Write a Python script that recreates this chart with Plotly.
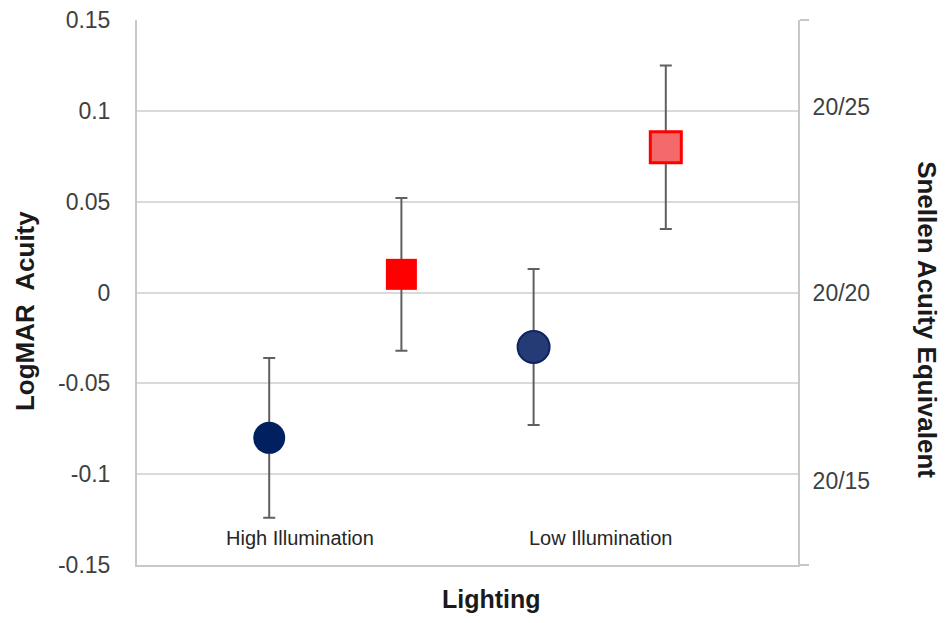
import plotly.graph_objects as go

# ---- data ----
categories = ["High Illumination", "Low Illumination"]
circle_values = [-0.08, -0.03]
circle_errors = [0.044, 0.043]
square_values = [0.01, 0.08]
square_errors = [0.042, 0.045]
left_ticks = [-0.15, -0.1, -0.05, 0.0, 0.05, 0.1, 0.15]
left_tick_text = ["-0.15", "-0.1", "-0.05", "0", "0.05", "0.1", "0.15"]
snellen_ticks = [0.102, 0.0, -0.104]
snellen_text = ["20/25", "20/20", "20/15"]

FONT = "Liberation Sans, Arial, sans-serif"
NAVY = "#002060"
RED = "#FF0000"
ERR = "#606060"

# group positions: each category holds a circle then a square
circle_x = [2 * i + 1 for i in range(len(categories))]
square_x = [2 * i + 2 for i in range(len(categories))]

circle_fill = [NAVY, "#253b76"]
circle_line = [NAVY, "#0d2463"]
circle_lw = [0, 2]
square_fill = [RED, "#f46a6a"]
square_line = [RED, RED]
square_lw = [0, 3]

fig = go.Figure()
fig.add_trace(go.Scatter(
    x=circle_x, y=circle_values, mode="markers",
    marker=dict(symbol="circle", size=32, color=circle_fill,
                line=dict(color=circle_line, width=circle_lw)),
    error_y=dict(type="data", array=circle_errors, visible=True,
                 color=ERR, thickness=2, width=6),
    showlegend=False, hoverinfo="skip"))
fig.add_trace(go.Scatter(
    x=square_x, y=square_values, mode="markers",
    marker=dict(symbol="square", size=31, color=square_fill,
                line=dict(color=square_line, width=square_lw)),
    error_y=dict(type="data", array=square_errors, visible=True,
                 color=ERR, thickness=2, width=6),
    showlegend=False, hoverinfo="skip"))
# invisible trace so the secondary (Snellen) axis is drawn
fig.add_trace(go.Scatter(
    x=circle_x, y=circle_values, yaxis="y2", mode="markers",
    marker=dict(opacity=0), showlegend=False, hoverinfo="skip"))

annotations = [
    dict(text="LogMAR  Acuity", xref="paper", yref="paper", x=-0.1694, y=0.466,
         textangle=-90, showarrow=False, xanchor="center", yanchor="middle",
         font=dict(family=FONT, size=26, color="#1a1a1a", weight="bold")),
    dict(text="Snellen Acuity Equivalent", xref="paper", yref="paper", x=1.195, y=0.4495,
         textangle=90, showarrow=False, xanchor="center", yanchor="middle",
         font=dict(family=FONT, size=26, color="#1a1a1a", weight="bold")),
    dict(text="Lighting", xref="paper", yref="paper", x=0.537, y=-0.0624,
         showarrow=False, xanchor="center", yanchor="middle",
         font=dict(family=FONT, size=25, color="#1a1a1a", weight="bold")),
]
label_px = [0.2466, 0.7005]
for i, c in enumerate(categories):
    annotations.append(dict(text=c, xref="paper", yref="paper", x=label_px[i], y=0.05,
                            showarrow=False, xanchor="center", yanchor="middle",
                            font=dict(family=FONT, size=20, color="#262626")))

# the page body has an 8px margin, so the figure is 8px smaller and margins compensate
fig.update_layout(
    width=939, height=615, autosize=False,
    margin=dict(l=129, r=149, t=12, b=58, autoexpand=False),
    paper_bgcolor="white", plot_bgcolor="white",
    font=dict(family=FONT, color="#404040"),
    xaxis=dict(range=[0, 5], showgrid=False, zeroline=False, showticklabels=False,
               showline=True, linecolor="#c8c8c8", linewidth=2, ticks="",
               automargin=False),
    yaxis=dict(range=[-0.15, 0.15], tickvals=left_ticks, ticktext=left_tick_text,
               showgrid=False, zeroline=False, showline=True, linecolor="#c8c8c8",
               linewidth=2, ticks="", ticklabelstandoff=20, ticklabeloverflow="allow",
               automargin=False,
               tickfont=dict(family=FONT, size=23, color="#404040"),
               minor=dict(tickvals=[-0.15, -0.1, -0.05, 0.0, 0.05, 0.1],
                          showgrid=True, gridcolor="#dadada", gridwidth=2, ticks="")),
    yaxis2=dict(range=[-0.15, 0.15], overlaying="y", side="right", anchor="x",
                tickvals=snellen_ticks, ticktext=snellen_text,
                showgrid=False, zeroline=False, showline=True, linecolor="#c8c8c8",
                linewidth=2, ticks="", ticklabelstandoff=8, ticklabeloverflow="allow",
                automargin=False,
                tickfont=dict(family=FONT, size=23, color="#404040"),
                minor=dict(tickvals=[-0.15, 0.15], ticks="outside", ticklen=9,
                           tickcolor="#c8c8c8", tickwidth=2, showgrid=False)),
    annotations=annotations,
)

fig.write_html("out.html")
